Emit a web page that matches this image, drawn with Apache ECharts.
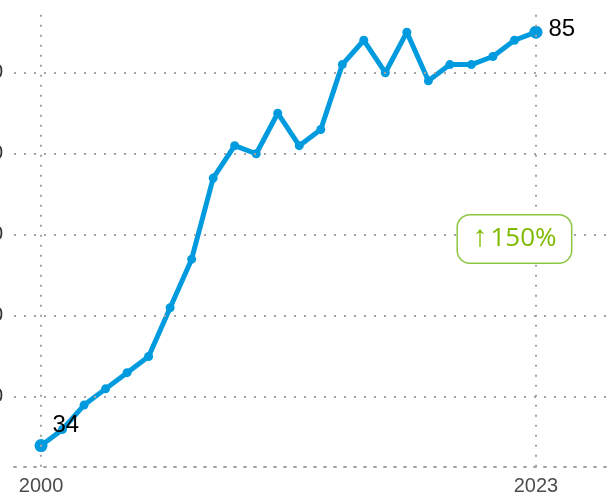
<!DOCTYPE html>
<html>
<head>
<meta charset="utf-8">
<style>
  html, body { margin: 0; padding: 0; background: #ffffff; }
  #chart { width: 610px; height: 500px; }
</style>
<script src="https://cdn.jsdelivr.net/npm/echarts@6/dist/echarts.min.js"></script>
</head>
<body>
<div id="chart"></div>
<script>
// Yearly values, 2000–2023
const years = [2000, 2001, 2002, 2003, 2004, 2005, 2006, 2007, 2008, 2009, 2010, 2011,
               2012, 2013, 2014, 2015, 2016, 2017, 2018, 2019, 2020, 2021, 2022, 2023];
const values = [34, 36, 39, 41, 43, 45, 51, 57, 67, 71, 70, 75,
                71, 73, 81, 84, 80, 85, 79, 81, 81, 82, 84, 85];

// Axis labels and gridline positions
const xTickLabels = [2000, 2023];
const yTickLabels = [40, 50, 60, 70, 80];

const BLUE = '#009bde';
const GREEN = '#7fba00';
const GRID_GREY = '#a3a3a3';
const dotted = { color: GRID_GREY, width: 2, type: [2, 8] };

const first = values[0];
const last = values[values.length - 1];
const change = Math.round((last - first) / first * 100);

const lineData = years.map((yr, i) => {
  const isFirst = i === 0;
  const isLast = i === years.length - 1;
  const item = { value: [yr, values[i]] };
  if (isFirst || isLast) {
    item.symbolSize = 13;
    item.itemStyle = { color: BLUE, borderWidth: 0, opacity: 1 };
    item.label = {
      show: true,
      position: 'right',
      distance: isFirst ? 5 : 6,
      offset: isFirst ? [0, -20] : [0, -3],
      formatter: String(values[i]),
      fontFamily: 'Liberation Sans, Arial, sans-serif',
      fontSize: 24,
      color: '#000000'
    };
  }
  return item;
});

const chart = echarts.init(document.getElementById('chart'), null, { renderer: 'canvas' });

chart.setOption({
  animation: false,
  backgroundColor: '#ffffff',
  grid: {
    left: 14, right: 0, top: 11.5, bottom: 33.3,
    containLabel: false,
    outerBoundsMode: 'none'
  },
  xAxis: {
    type: 'value',
    min: 1998.745,
    max: 2026.44,
    splitLine: { show: false },
    axisTick: { show: false },
    axisLine: { show: true, lineStyle: dotted },
    axisLabel: {
      customValues: xTickLabels,
      formatter: v => String(v),
      fontFamily: 'Liberation Sans, Arial, sans-serif',
      fontSize: 20,
      color: '#4d4d4d',
      margin: 10
    }
  },
  yAxis: {
    type: 'value',
    min: 31.4,
    max: 87.55,
    splitLine: { show: false },
    axisTick: { show: false },
    axisLine: { show: false },
    axisLabel: {
      customValues: yTickLabels,
      formatter: v => String(v),
      fontFamily: 'Liberation Sans, Arial, sans-serif',
      fontSize: 20,
      color: '#333333',
      margin: 11
    }
  },
  series: [
    {
      // dotted reference gridlines
      type: 'line',
      data: [],
      z: 1,
      silent: true,
      markLine: {
        silent: true,
        symbol: 'none',
        label: { show: false },
        lineStyle: dotted,
        emphasis: { disabled: true },
        data: yTickLabels.map(v => ({ yAxis: v }))
          .concat(xTickLabels.map(v => ({ xAxis: v })))
      }
    },
    {
      type: 'line',
      z: 3,
      data: lineData,
      symbol: 'circle',
      symbolSize: 9,
      showAllSymbol: true,
      lineStyle: { color: BLUE, width: 5 },
      itemStyle: { color: BLUE, borderWidth: 0 },
      emphasis: { disabled: true },
      label: { show: false },
      markPoint: {
        silent: true,
        data: [{
          coord: [2022, 59.5],
          symbol: 'circle',
          symbolSize: 1,
          itemStyle: { color: 'rgba(0,0,0,0)' },
          label: {
            show: true,
            position: 'inside',
            formatter: '{a|↑}{b|' + change + '%}',
            color: GREEN,
            backgroundColor: '#ffffff',
            borderColor: '#8cc63f',
            borderWidth: 1.5,
            borderRadius: 12,
            width: 113,
            height: 47,
            lineHeight: 47,
            align: 'center',
            verticalAlign: 'middle',
            padding: 0,
            rich: {
              a: {
                fontFamily: 'Liberation Sans, DejaVu Sans, sans-serif',
                fontSize: 30,
                color: GREEN,
                padding: [0, 3, 2, 0]
              },
              b: {
                fontFamily: 'Open Sans, Noto Sans, sans-serif',
                fontSize: 26,
                color: GREEN
              }
            }
          }
        }]
      }
    }
  ]
});
</script>
</body>
</html>
